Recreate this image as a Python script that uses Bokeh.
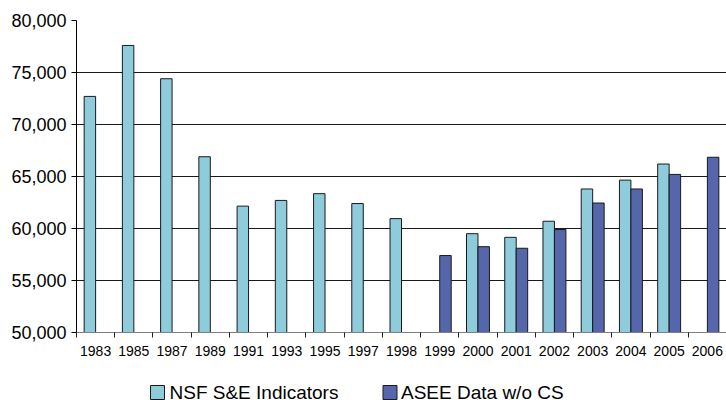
from bokeh.plotting import figure
from bokeh.layouts import column
from bokeh.core.properties import value
from bokeh.models import (ColumnDataSource, FixedTicker, NumeralTickFormatter,
                          Range1d)
from bokeh.embed import file_html
from bokeh.resources import INLINE

# Engineering bachelor's degrees awarded, by source
years = ["1983", "1985", "1987", "1989", "1991", "1993", "1995", "1997", "1998",
         "1999", "2000", "2001", "2002", "2003", "2004", "2005", "2006"]
nsf = [72700, 77600, 74400, 66900, 62150, 62700, 63350, 62400, 60950,
       None, 59500, 59150, 60700, 63800, 64650, 66200, None]
asee = [None, None, None, None, None, None, None, None, None,
        57400, 58250, 58100, 59900, 62450, 63800, 65200, 66850]
y_ticks = [50000, 55000, 60000, 65000, 70000, 75000, 80000]
series_names = ["NSF S&E Indicators", "ASEE Data w/o CS"]

NSF_COLOR = "#8ECBDB"
ASEE_COLOR = "#5566AA"
EDGE = "#1a1a1a"
FONT = "Liberation Sans"

W, H_CHART, H_KEY = 726, 370, 30
LEFT = 76

n = len(years)
bar_w = 0.3
centers = [i + 0.5 for i in range(n)]

nsf_src = ColumnDataSource(dict(
    x=[c - bar_w / 2 for c, v in zip(centers, nsf) if v is not None],
    top=[v for v in nsf if v is not None]))
asee_src = ColumnDataSource(dict(
    x=[c + bar_w / 2 for c, v in zip(centers, asee) if v is not None],
    top=[v for v in asee if v is not None]))

p = figure(width=W, height=H_CHART, output_backend="svg", toolbar_location=None,
           x_range=Range1d(0, n), y_range=Range1d(y_ticks[0], y_ticks[-1]),
           min_border_left=LEFT, min_border_right=0, min_border_top=20,
           min_border_bottom=38)
p.outline_line_color = None
p.background_fill_color = "white"
p.border_fill_color = "white"

p.vbar(x="x", top="top", bottom=y_ticks[0], width=bar_w, source=nsf_src,
       fill_color=NSF_COLOR, line_color=EDGE, line_width=1)
p.vbar(x="x", top="top", bottom=y_ticks[0], width=bar_w, source=asee_src,
       fill_color=ASEE_COLOR, line_color=EDGE, line_width=1)

# x axis: year labels at category centres, tick marks between categories
p.xaxis.ticker = FixedTicker(ticks=centers, minor_ticks=list(range(n + 1)))
p.xaxis.major_label_overrides = {c: y for c, y in zip(centers, years)}
p.xaxis.major_tick_out = 0
p.xaxis.major_tick_in = 0
p.xaxis.minor_tick_out = 5
p.xaxis.minor_tick_in = 0
p.xaxis.minor_tick_line_color = "#222222"
p.xaxis.axis_line_color = "#808080"
p.xaxis.major_label_standoff = 8
p.xaxis.major_label_text_font = FONT
p.xaxis.major_label_text_font_size = "14px"
p.xaxis.major_label_text_color = "black"

p.yaxis.ticker = FixedTicker(ticks=y_ticks)
p.yaxis.formatter = NumeralTickFormatter(format="0,0")
p.yaxis.major_tick_out = 5
p.yaxis.major_tick_in = 0
p.yaxis.minor_tick_line_color = None
p.yaxis.axis_line_color = "black"
p.yaxis.major_tick_line_color = "black"
p.yaxis.major_label_standoff = 5
p.yaxis.major_label_text_font = FONT
p.yaxis.major_label_text_font_size = "18px"
p.yaxis.major_label_text_color = "black"

p.xgrid.grid_line_color = None
p.ygrid.grid_line_color = EDGE
p.ygrid.grid_line_width = 1

# key strip underneath the chart, laid out in page pixels
top_px = H_CHART
key = figure(width=W, height=H_KEY, output_backend="svg", toolbar_location=None,
             x_range=Range1d(LEFT, W), y_range=Range1d(top_px + H_KEY, top_px),
             x_axis_type=None, y_axis_type=None,
             min_border_left=LEFT, min_border_right=0, min_border_top=0,
             min_border_bottom=0)
key.outline_line_color = None
key.xgrid.grid_line_color = None
key.ygrid.grid_line_color = None
key.background_fill_color = "white"
key.border_fill_color = "white"

swatch_x = [157, 389.5]
label_x = [169, 400.5]
key.rect(x=swatch_x, y=[392, 392], width=14, height=14,
         fill_color=[NSF_COLOR, ASEE_COLOR], line_color=EDGE, line_width=1)
key.text(x=label_x, y=[392, 392], text=series_names,
         text_font=value(FONT), text_font_size="19px", text_color="black",
         text_baseline="middle", text_align="left")

open("out.html", "w").write(file_html(column(p, key, spacing=0), INLINE))
